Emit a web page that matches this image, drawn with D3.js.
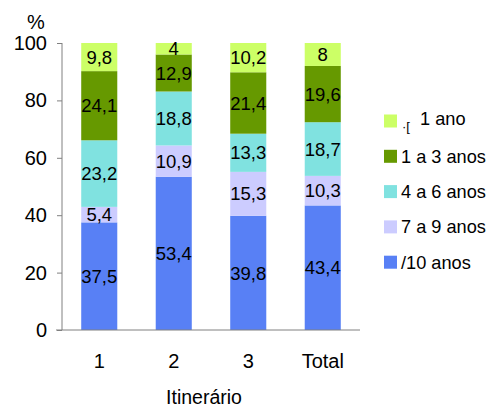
<!DOCTYPE html>
<html>
<head>
<meta charset="utf-8">
<script src="https://cdn.jsdelivr.net/npm/d3@7"></script>
<style>
  html, body { margin: 0; padding: 0; background: #fff; }
  svg { display: block; font-family: "Liberation Sans", Arial, sans-serif; }
</style>
</head>
<body>
<svg id="chart" width="489" height="407"></svg>
<script>
// Itinerary categories along the x axis
const categories = ["1", "2", "3", "Total"];

// Series, stacked from the bottom up
const seriesNames = ["/10 anos", "7 a 9 anos", "4 a 6 anos", "1 a 3 anos", "1 ano"];
const seriesColors = ["#5880F5", "#CCCCFF", "#80E2E0", "#669900", "#CCFF66"];

// Percentage of each group per itinerary (same order as seriesNames)
const values10plus = [37.5, 53.4, 39.8, 43.4];
const values7to9   = [5.4, 10.9, 15.3, 10.3];
const values4to6   = [23.2, 18.8, 13.3, 18.7];
const values1to3   = [24.1, 12.9, 21.4, 19.6];
const valuesUpTo1  = [9.8, 4, 10.2, 8];

const yTicks = [0, 20, 40, 60, 80, 100];

const seriesValues = [values10plus, values7to9, values4to6, values1to3, valuesUpTo1];

const rows = categories.map((c, i) => {
  const r = { cat: c };
  seriesNames.forEach((s, k) => { r[s] = seriesValues[k][i]; });
  return r;
});

const svg = d3.select("#chart");

const x = d3.scaleBand().domain(categories).range([62, 360]).paddingInner(0.516).paddingOuter(0.258);
const y = d3.scaleLinear().domain([0, 100]).range([330, 43]);

const stack = d3.stack().keys(seriesNames);
const layers = stack(rows);

const fmt = v => String(v).replace(".", ",");

// Bars
const g = svg.append("g");
layers.forEach((layer, k) => {
  g.selectAll(null)
    .data(layer)
    .join("rect")
    .attr("x", d => x(d.data.cat))
    .attr("width", x.bandwidth())
    .attr("y", d => y(d[1]))
    .attr("height", d => y(d[0]) - y(d[1]))
    .attr("fill", seriesColors[k]);
});

// Value labels centred in each segment
layers.forEach((layer, k) => {
  g.selectAll(null)
    .data(layer)
    .join("text")
    .attr("x", d => x(d.data.cat) + x.bandwidth() / 2)
    .attr("y", d => (y(d[0]) + y(d[1])) / 2)
    .attr("dy", "0.36em")
    .attr("text-anchor", "middle")
    .attr("font-size", 18.5)
    .attr("fill", "#000")
    .text(d => fmt(d.data[layer.key]));
});

// Y axis
const yAxis = d3.axisLeft(y).tickValues(yTicks).tickSize(5).tickPadding(10);
const ya = svg.append("g").attr("transform", "translate(62,0)").call(yAxis);
ya.select(".domain").attr("stroke", "#808080").attr("d", "M0,43V330");
ya.selectAll(".tick line").attr("stroke", "#808080");
ya.selectAll(".tick text").attr("font-size", 20).attr("fill", "#000")
  .attr("font-family", "Liberation Sans, Arial, sans-serif");

// X axis
const xAxis = d3.axisBottom(x).tickSize(0).tickPadding(24);
const xa = svg.append("g").attr("transform", "translate(0,330)").call(xAxis);
xa.select(".domain").attr("stroke", "#808080").attr("d", "M56,0H360");
xa.selectAll(".tick text").attr("font-size", 20).attr("fill", "#000")
  .attr("font-family", "Liberation Sans, Arial, sans-serif");

// Axis titles
svg.append("text").attr("x", 36).attr("y", 29).attr("text-anchor", "middle")
  .attr("font-size", 20).text("%");
svg.append("text").attr("x", 204).attr("y", 404).attr("text-anchor", "middle")
  .attr("font-size", 19.5).text("Itinerário");

// Legend, top entry first
const legendOrder = [4, 3, 2, 1, 0];
const leg = svg.append("g");
legendOrder.forEach((k, i) => {
  const cy = 121 + i * 35.3;
  leg.append("rect").attr("x", 384).attr("y", cy - 6.5).attr("width", 13).attr("height", 13)
    .attr("fill", seriesColors[k]);
  if (k === 4) {
    leg.append("text").attr("x", 402).attr("y", cy + 10).attr("font-size", 13).text("·[");
    leg.append("text").attr("x", 420).attr("y", cy + 4).attr("font-size", 18.2).text(seriesNames[k]);
  } else {
    leg.append("text").attr("x", 401).attr("y", cy).attr("dy", "0.36em")
      .attr("font-size", 18.2).text(seriesNames[k]);
  }
});
</script>
</body>
</html>
